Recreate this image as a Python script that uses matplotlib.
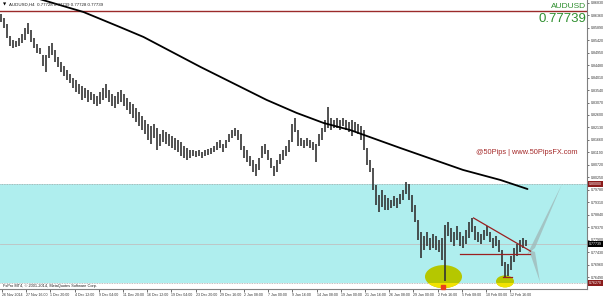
import matplotlib
matplotlib.use('Agg')
import matplotlib.pyplot as plt
from matplotlib.patches import Ellipse, Rectangle, Polygon
import matplotlib.transforms as mtransforms

plt.rcParams['font.family'] = ['Liberation Sans', 'DejaVu Sans']

# ---------------- data ----------------
symbol = "AUDUSD"
last_price = 0.77739
title_text = "AUDUSD,H4  0.77728 0.77739 0.77728 0.77739"
copyright_text = "FxPro MT4, \u00a9 2001-2014, MetaQuotes Software Corp."
watermark = "@50Pips | www.50PipsFX.com"

bar_index = list(range(0, 352, 2))
highs = [
    0.8641, 0.8626, 0.8603, 0.8558, 0.8543, 0.8539, 0.8550, 0.8565, 0.8588, 0.8607,
    0.8580, 0.8550, 0.8527, 0.8512, 0.8486, 0.8486, 0.8520, 0.8531, 0.8505, 0.8478,
    0.8460, 0.8445, 0.8430, 0.8415, 0.8400, 0.8392, 0.8377, 0.8369, 0.8362, 0.8354,
    0.8347, 0.8339, 0.8332, 0.8347, 0.8362, 0.8377, 0.8354, 0.8339, 0.8332, 0.8347,
    0.8354, 0.8339, 0.8324, 0.8309, 0.8302, 0.8287, 0.8271, 0.8256, 0.8241, 0.8226,
    0.8218, 0.8226, 0.8211, 0.8188, 0.8203, 0.8196, 0.8188, 0.8181, 0.8173, 0.8166,
    0.8158, 0.8143, 0.8136, 0.8128, 0.8128, 0.8124, 0.8128, 0.8121, 0.8128, 0.8132,
    0.8136, 0.8143, 0.8158, 0.8166, 0.8151, 0.8166, 0.8188, 0.8203, 0.8211, 0.8203,
    0.8188, 0.8143, 0.8128, 0.8106, 0.8090, 0.8075, 0.8098, 0.8143, 0.8151, 0.8128,
    0.8098, 0.8068, 0.8090, 0.8113, 0.8128, 0.8143, 0.8166, 0.8226, 0.8249, 0.8203,
    0.8173, 0.8166, 0.8173, 0.8166, 0.8158, 0.8151, 0.8188, 0.8211, 0.8241, 0.8290,
    0.8249, 0.8241, 0.8249, 0.8241, 0.8249, 0.8241, 0.8234, 0.8241, 0.8234, 0.8226,
    0.8218, 0.8203, 0.8136, 0.8090, 0.8060, 0.7996, 0.7959, 0.7977, 0.7959, 0.7947,
    0.7940, 0.7955, 0.7947, 0.7962, 0.7977, 0.8008, 0.8000, 0.7959, 0.7921, 0.7864,
    0.7819, 0.7804, 0.7819, 0.7797, 0.7812, 0.7804, 0.7789, 0.7797, 0.7845, 0.7857,
    0.7834, 0.7819, 0.7842, 0.7819, 0.7804, 0.7827, 0.7857, 0.7872, 0.7842, 0.7819,
    0.7812, 0.7827, 0.7842, 0.7819, 0.7797, 0.7804, 0.7789, 0.7751, 0.7706, 0.7699,
    0.7729, 0.7759, 0.7774, 0.7789, 0.7797, 0.7789,
]
lows = [
    0.8610, 0.8588, 0.8550, 0.8520, 0.8512, 0.8516, 0.8520, 0.8531, 0.8543, 0.8565,
    0.8535, 0.8512, 0.8494, 0.8490, 0.8445, 0.8422, 0.8475, 0.8486, 0.8460, 0.8441,
    0.8422, 0.8407, 0.8392, 0.8381, 0.8362, 0.8347, 0.8339, 0.8317, 0.8324, 0.8309,
    0.8317, 0.8302, 0.8294, 0.8302, 0.8317, 0.8324, 0.8309, 0.8294, 0.8287, 0.8302,
    0.8309, 0.8294, 0.8279, 0.8264, 0.8249, 0.8234, 0.8218, 0.8203, 0.8188, 0.8166,
    0.8151, 0.8173, 0.8128, 0.8143, 0.8158, 0.8151, 0.8143, 0.8136, 0.8128, 0.8121,
    0.8106, 0.8098, 0.8090, 0.8098, 0.8106, 0.8102, 0.8106, 0.8098, 0.8106, 0.8109,
    0.8113, 0.8121, 0.8128, 0.8136, 0.8121, 0.8136, 0.8158, 0.8173, 0.8181, 0.8166,
    0.8128, 0.8098, 0.8083, 0.8068, 0.8045, 0.8030, 0.8053, 0.8098, 0.8113, 0.8090,
    0.8060, 0.8030, 0.8045, 0.8075, 0.8090, 0.8106, 0.8121, 0.8158, 0.8196, 0.8143,
    0.8143, 0.8136, 0.8143, 0.8136, 0.8128, 0.8083, 0.8143, 0.8166, 0.8196, 0.8211,
    0.8203, 0.8211, 0.8211, 0.8203, 0.8218, 0.8203, 0.8196, 0.8181, 0.8196, 0.8188,
    0.8166, 0.8128, 0.8072, 0.8045, 0.7977, 0.7921, 0.7894, 0.7913, 0.7902, 0.7902,
    0.7910, 0.7917, 0.7910, 0.7925, 0.7940, 0.7962, 0.7940, 0.7894, 0.7857, 0.7789,
    0.7721, 0.7751, 0.7766, 0.7751, 0.7759, 0.7751, 0.7744, 0.7714, 0.7635, 0.7804,
    0.7781, 0.7766, 0.7789, 0.7766, 0.7759, 0.7774, 0.7797, 0.7819, 0.7789, 0.7781,
    0.7774, 0.7789, 0.7804, 0.7781, 0.7759, 0.7766, 0.7744, 0.7691, 0.7650, 0.7653,
    0.7676, 0.7706, 0.7729, 0.7744, 0.7759, 0.7766,
]

ma_bars = [0, 28, 55, 79, 95, 133, 177, 197, 215, 233, 266, 308, 333, 351]
ma_values = [0.8742, 0.8693, 0.8648, 0.8592, 0.8554, 0.8441, 0.8317, 0.8268,
             0.8230, 0.8203, 0.8136, 0.8053, 0.8015, 0.7981]

zone_top = 0.80000
zone_bottom = 0.76270
top_line_price = 0.8652

tri_upper_bars = [315, 353]
tri_upper_prices = [0.7872, 0.7747]
tri_base_bars = [306, 353]
tri_base_price = 0.7735
low2_bars = [335, 341]
low2_price = 0.7650

ellipse1 = dict(bar=295, price=0.7651, w=24.7, h=0.00867)
ellipse2 = dict(bar=336, price=0.7633, w=12.0, h=0.00452)
marker_bar, marker_price = 295, 0.7612

wedge_up = [(350.7, 0.7733), (356.0, 0.7759), (374.0, 0.8000)]
wedge_dn = [(352.0, 0.7751), (356.0, 0.7744), (359.3, 0.7631)]

x_labels = ["26 Nov 2014", "27 Nov 16:00", "1 Dec 20:00", "4 Dec 12:00", "9 Dec 04:00",
            "11 Dec 20:00", "16 Dec 12:00", "19 Dec 04:00", "23 Dec 20:00", "29 Dec 16:00",
            "2 Jan 08:00", "7 Jan 00:00", "9 Jan 16:00", "14 Jan 08:00", "19 Jan 00:00",
            "21 Jan 16:00", "26 Jan 08:00", "29 Jan 00:00", "2 Feb 16:00", "5 Feb 08:00",
            "10 Feb 00:00", "12 Feb 16:00"]
y_ticks = [0.86830, 0.86360, 0.85890, 0.85420, 0.84950, 0.84480, 0.84010, 0.83540,
           0.83070, 0.82600, 0.82130, 0.81660, 0.81190, 0.80720, 0.80250, 0.79780,
           0.79310, 0.78840, 0.78370, 0.77900, 0.77430, 0.76960, 0.76490]

# ---------------- figure ----------------
W, H = 604, 297
fig = plt.figure(figsize=(W / 100, H / 100), dpi=100)
fig.patch.set_facecolor('white')
ax = fig.add_axes([0, 8 / H, 587 / W, 289 / H])
ax.set_xlim(-0.67, 390.67)
ax.set_ylim(0.76043, 0.86933)

# zone
ax.axhspan(zone_bottom, zone_top, color='#afeeee', zorder=0, lw=0)
for p in (zone_top, zone_bottom):
    ax.axhline(p, color='#a8a8a8', ls=(0, (1, 1)), lw=0.6, zorder=1)

# ellipses
for ed in (ellipse1, ellipse2):
    e = Ellipse((ed['bar'], ed['price']), ed['w'], ed['h'],
                facecolor='#b5c700', edgecolor='none', zorder=2)
    ax.add_patch(e)
    ey = Ellipse((ed['bar'], ed['price']), ed['w'], ed['h'],
                 facecolor='#f2e200', edgecolor='none', zorder=2.1)
    ax.add_patch(ey)
    clip = Rectangle((-10, 0.70), 500, zone_bottom - 0.70, transform=ax.transData)
    ey.set_clip_path(clip)

# lines
ax.axhline(top_line_price, color='#9b2a2a', lw=1.0, zorder=3)
ax.axhline(last_price, color='#c0c0c0', lw=0.6, zorder=1.5)

# wedges
ax.add_patch(Polygon(wedge_up, closed=True, facecolor='#9fb6b6', edgecolor='none', alpha=0.75, zorder=2))
ax.add_patch(Polygon(wedge_dn, closed=True, facecolor='#9fb6b6', edgecolor='none', alpha=0.75, zorder=2))

# bars
ax.vlines(bar_index, lows, highs, color='#333333', lw=1.2, zorder=4)

# moving average
ax.plot(ma_bars, ma_values, color='black', lw=1.3, zorder=5, solid_capstyle='round')

# triangle
ax.plot(tri_upper_bars, tri_upper_prices, color='#9b2020', lw=0.9, zorder=6)
ax.plot(tri_base_bars, [tri_base_price] * 2, color='#9b2020', lw=0.9, zorder=6)
ax.plot(low2_bars, [low2_price] * 2, color='#9b2020', lw=0.9, zorder=6)
ax.plot([marker_bar], [marker_price], 's', ms=2.2, color='#e8401c', zorder=6, clip_on=False)

# axes styling
for s in ('left', 'top'):
    ax.spines[s].set_visible(False)
ax.spines['right'].set_color('#808080')
ax.spines['bottom'].set_color('#808080')
ax.spines['right'].set_linewidth(0.8)
ax.spines['bottom'].set_linewidth(0.8)

ax.yaxis.tick_right()
ax.set_yticks(y_ticks)
ax.set_yticklabels(['%.5f' % v for v in y_ticks])
ax.tick_params(axis='y', length=1.5, width=0.5, labelsize=2.6, pad=1, colors='#333333')

x_tick_pos = [(1 + 24.2 * k) / 1.5 for k in range(len(x_labels))]
ax.set_xticks(x_tick_pos)
ax.set_xticklabels(x_labels)
ax.tick_params(axis='x', length=2, width=0.5, labelsize=2.6, pad=1, colors='#333333')
for lab in ax.get_xticklabels():
    lab.set_horizontalalignment('left')

# price labels on axis
trans = mtransforms.blended_transform_factory(ax.transAxes, ax.transData)
for p, txt, bg in ((zone_top, '0.80000', '#8b1c1c'), (last_price, '0.77739', '#000000'),
                   (zone_bottom, '0.76270', '#8b1c1c')):
    ax.text(1.003, p, txt, transform=trans, fontsize=2.6, color='white', va='center', ha='left',
            bbox=dict(boxstyle='square,pad=0.3', facecolor=bg, edgecolor='none'), zorder=10, clip_on=False)

# texts
fig.text(3 / W, 1 - 5 / H, '\u25bc', fontsize=3, va='center', ha='left', family='DejaVu Sans')
fig.text(9 / W, 1 - 5 / H, title_text, fontsize=3.2, va='center', ha='left', color='#202020')
fig.text(586 / W, 1 - 7 / H, symbol, fontsize=6, va='center', ha='right', color='#2f8f2f')
fig.text(586 / W, 1 - 19 / H, '%.5f' % last_price, fontsize=9.5, va='center', ha='right', color='#2f8f2f')
fig.text(577 / W, 1 - 152 / H, watermark, fontsize=5.3, va='center', ha='right', color='#a52a2a')
fig.text(3 / W, 1 - 286 / H, copyright_text, fontsize=2.8, va='center', ha='left', color='#202020')

fig.savefig('out.png', dpi=100)
